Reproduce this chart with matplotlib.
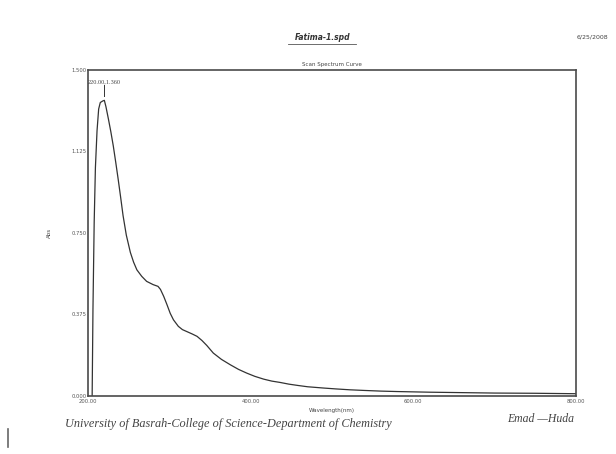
import matplotlib
matplotlib.use('Agg')
import matplotlib.pyplot as plt

# Spectrum
wavelength = [205, 206, 207.5, 209, 211, 213, 215, 218, 220, 222, 225, 228, 231, 234, 237, 240,
              243, 247, 252, 256, 260, 266, 272, 280, 286, 289, 293, 297, 301, 305, 311, 316,
              322, 328, 334, 340, 346, 354, 364, 375, 385, 395, 405, 416, 426, 436, 447, 458,
              470, 490, 505, 522, 540, 560, 580, 620, 660, 700, 750, 800]
absorbance = [0.0, 0.40, 0.80, 1.05, 1.22, 1.32, 1.35, 1.357, 1.360, 1.33, 1.274, 1.215, 1.15,
              1.075, 0.997, 0.915, 0.83, 0.74, 0.66, 0.615, 0.58, 0.55, 0.527, 0.512, 0.504,
              0.49, 0.458, 0.42, 0.38, 0.35, 0.32, 0.305, 0.295, 0.285, 0.274, 0.255, 0.232,
              0.197, 0.168, 0.143, 0.122, 0.105, 0.09, 0.077, 0.068, 0.062, 0.054, 0.048, 0.042,
              0.036, 0.032, 0.028, 0.025, 0.022, 0.020, 0.017, 0.015, 0.013, 0.012, 0.010]
xticks = [200, 400, 600, 800]
yticks = [0.0, 0.375, 0.75, 1.125, 1.5]
peak = (220, 1.360)

line_col = '#4a4a4a'

fig = plt.figure(figsize=(6.16, 4.54), dpi=100)
ax = fig.add_axes([0.143, 0.128, 0.792, 0.718])
ax.plot(wavelength, absorbance, color='#333333', lw=0.9, solid_joinstyle='round')
ax.set_xlim(200, 800)
ax.set_ylim(0, 1.5)
ax.set_xticks(xticks)
ax.set_xticklabels(['%.2f' % v for v in xticks])
ax.set_yticks(yticks)
ax.set_yticklabels(['%.3f' % v for v in yticks])
ax.tick_params(labelsize=3.8, length=0, pad=1, colors='#555555')
ax.tick_params(axis='x', pad=2)
for s in ax.spines.values():
    s.set_color(line_col)
    s.set_linewidth(1.2)

# peak marker
ax.plot([peak[0], peak[0]], [peak[1] + 0.02, peak[1] + 0.07], color='#333333', lw=0.7)
ax.text(peak[0], peak[1] + 0.075, '%.2f,%.3f' % peak, fontsize=4.5, ha='center',
        va='bottom', color='#444444', family='Liberation Serif')

ax.set_xlabel('Wavelength(nm)', fontsize=4, color='#444444', labelpad=3)
ax.set_ylabel('Abs', fontsize=4, color='#444444', labelpad=14)
ax.set_title('Scan Spectrum Curve', fontsize=4, color='#444444', pad=3)

fig.text(0.523, 0.918, 'Fatima-1.spd', fontsize=5.5, style='italic', ha='center',
         va='center', color='#333333', fontweight='bold')
fig.add_artist(plt.Line2D([0.468, 0.578], [0.902, 0.902], color='#555555', lw=0.6))
fig.text(0.962, 0.918, '6/25/2008', fontsize=4.5, ha='center', va='center', color='#444444')

fig.text(0.105, 0.066, 'University of Basrah-College of Science-Department of Chemistry',
         fontsize=8.8, style='italic', ha='left', va='center', color='#444444',
         family='Liberation Serif')
fig.text(0.878, 0.076, 'Emad \u2014Huda', fontsize=8.5, style='italic', ha='center',
         va='center', color='#444444', family='Liberation Serif')
fig.add_artist(plt.Line2D([0.0135, 0.0135], [0.015, 0.055], color='#666666', lw=1.2))

fig.savefig('out.png', dpi=100)
